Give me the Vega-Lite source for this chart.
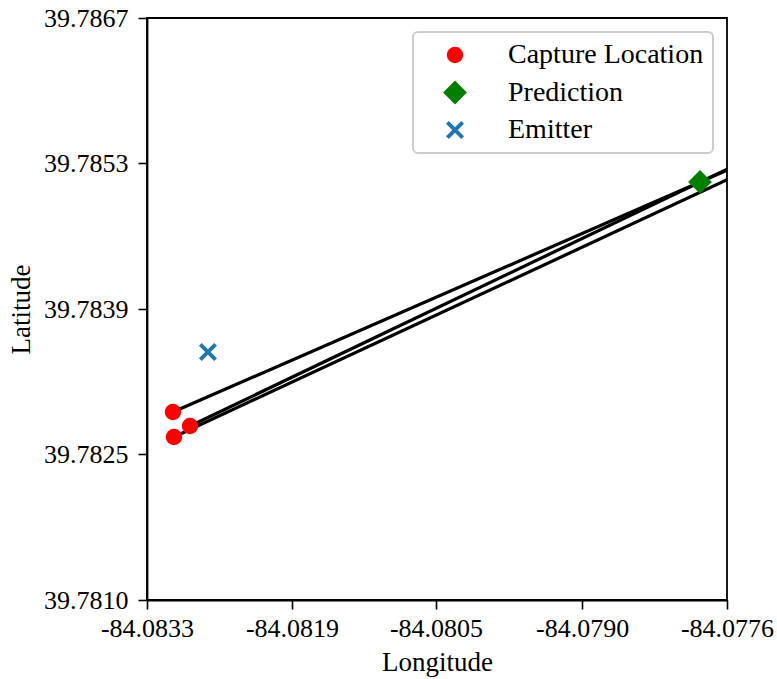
{
  "$schema": "https://vega.github.io/schema/vega-lite/v6.json",
  "width": 580,
  "height": 582,
  "autosize": {"type": "none"},
  "padding": {"left": 147, "top": 18, "right": 50, "bottom": 79},
  "background": "white",
  "datasets": {
    "lines": [
      {"line": "T", "lon": -84.083045, "lat": 39.782864},
      {"line": "T", "lon": -84.077276, "lat": 39.785349},
      {"line": "M", "lon": -84.082877, "lat": 39.782729},
      {"line": "M", "lon": -84.077276, "lat": 39.785373},
      {"line": "B", "lon": -84.083035, "lat": 39.782622},
      {"line": "B", "lon": -84.077276, "lat": 39.785266}
    ],
    "points": [
      {"type": "Capture Location", "lon": -84.083045, "lat": 39.782864},
      {"type": "Capture Location", "lon": -84.082877, "lat": 39.782729},
      {"type": "Capture Location", "lon": -84.083035, "lat": 39.782622},
      {"type": "Prediction", "lon": -84.077865, "lat": 39.785097},
      {"type": "Emitter", "lon": -84.082701, "lat": 39.783447}
    ]
  },
  "layer": [
    {
      "data": {"name": "lines"},
      "mark": {"type": "line", "color": "black", "strokeWidth": 3.2, "clip": true},
      "encoding": {
        "x": {"field": "lon", "type": "quantitative"},
        "y": {"field": "lat", "type": "quantitative"},
        "detail": {"field": "line"}
      }
    },
    {
      "data": {"name": "points"},
      "mark": {"type": "point", "filled": true, "opacity": 1, "size": 269, "strokeWidth": 0, "clip": true},
      "encoding": {
        "x": {"field": "lon", "type": "quantitative"},
        "y": {"field": "lat", "type": "quantitative"},
        "color": {
          "field": "type", "type": "nominal",
          "scale": {"domain": ["Capture Location", "Prediction", "Emitter"], "range": ["#ff0000", "#008000", "#1f77b4"]},
          "legend": {"title": null, "labelFont": "Liberation Serif", "labelFontSize": 28}
        },
        "shape": {
          "field": "type", "type": "nominal",
          "scale": {"domain": ["Capture Location", "Prediction", "Emitter"], "range": ["circle", "M0,-1.45L1.45,0L0,1.45L-1.45,0Z", "M-0.759,-1.1L0,-0.341L0.759,-1.1L1.1,-0.759L0.341,0L1.1,0.759L0.759,1.1L0,0.341L-0.759,1.1L-1.1,0.759L-0.341,0L-1.1,-0.759Z"]},
          "legend": {"title": null, "labelFont": "Liberation Serif", "labelFontSize": 28}
        }
      }
    }
  ],
  "resolve": {"scale": {"x": "shared", "y": "shared"}},
  "encoding": {
    "x": {
      "field": "lon", "type": "quantitative",
      "scale": {"domain": [-84.0833, -84.0776], "nice": false, "zero": false},
      "axis": {"title": "Longitude", "values": [-84.0833, -84.081875, -84.08046, -84.079024, -84.0776], "labelExpr": "replace(format(datum.value, '.4f'), '\u2212', '-')", "labelFont": "Liberation Serif", "labelFontSize": 26, "labelPadding": 6, "titlePadding": 8}
    },
    "y": {
      "field": "lat", "type": "quantitative",
      "scale": {"domain": [39.78104, 39.786688], "nice": false, "zero": false},
      "axis": {"title": "Latitude", "values": [39.78104, 39.782452, 39.783864, 39.785276, 39.786688], "labelExpr": "format(datum.value, '.4f')", "labelFont": "Liberation Serif", "labelFontSize": 26, "labelPadding": 10, "titlePadding": 8}
    }
  },
  "config": {
    "view": {"stroke": "black", "strokeWidth": 1.8},
    "font": "Liberation Serif",
    "axis": {
      "grid": false,
      "labelFont": "Liberation Serif",
      "labelFontSize": 26,
      "labelColor": "black",
      "titleFont": "Liberation Serif",
      "titleFontSize": 27,
      "titleFontWeight": "normal",
      "titleColor": "black",
      "domainColor": "black",
      "domainWidth": 1.8,
      "tickColor": "black",
      "tickWidth": 1.6,
      "tickSize": 9,
      "labelFlush": false,
      "labelOverlap": false
    },
    "legend": {
      "orient": "top-right",
      "offset": 14,
      "padding": 9,
      "strokeColor": "#cccccc",
      "strokeWidth": 2,
      "cornerRadius": 5,
      "fillColor": "white",
      "labelFont": "Liberation Serif",
      "labelFontSize": 28,
      "labelColor": "black",
      "labelLimit": 400,
      "symbolSize": 269,
      "symbolStrokeWidth": 0,
      "symbolOffset": 19,
      "labelOffset": 39,
      "rowPadding": 9.5
    }
  }
}
